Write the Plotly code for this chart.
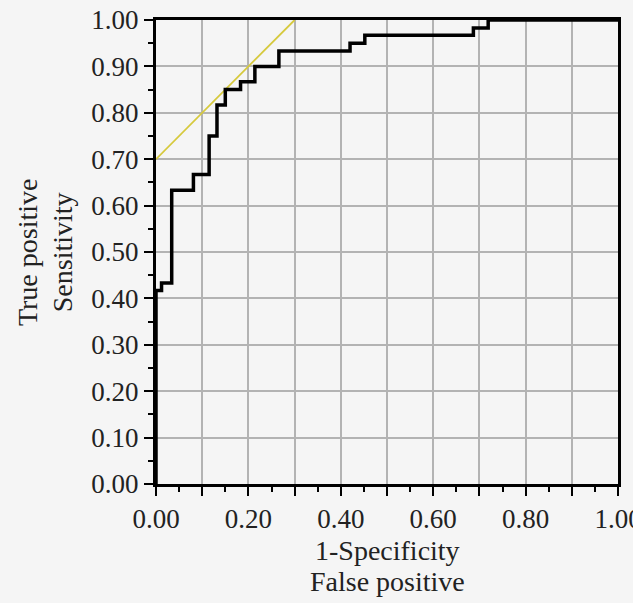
import plotly.graph_objects as go

# ROC step curve (1-Specificity, Sensitivity)
fpr = [0.0, 0.0, 0.012, 0.034, 0.081, 0.115, 0.132, 0.150, 0.183, 0.214, 0.266, 0.420, 0.452, 0.687, 0.719, 1.0]
tpr = [0.0, 0.417, 0.433, 0.633, 0.667, 0.750, 0.817, 0.850, 0.867, 0.900, 0.933, 0.950, 0.967, 0.983, 1.0, 1.0]

# tangent reference line
tan_x = [0.0, 0.30]
tan_y = [0.70, 1.00]

x_ticks = [round(i * 0.1, 2) for i in range(11)]
x_labels = [f"{v:.2f}" if i % 2 == 0 else "" for i, v in enumerate(x_ticks)]
y_ticks = [round(i * 0.1, 2) for i in range(11)]
y_labels = [f"{v:.2f}" for v in y_ticks]

x_title = ["1-Specificity", "False positive"]
y_title = ["True positive", "Sensitivity"]

FONT = "Liberation Serif"
BG = "#f5f5f5"
TXT = "#222"

fig = go.Figure()
fig.add_trace(go.Scatter(x=tan_x, y=tan_y, mode="lines",
                         line=dict(color="#d6c93c", width=1.8), showlegend=False))
fig.add_trace(go.Scatter(x=fpr, y=tpr, mode="lines", line_shape="hv",
                         line=dict(color="black", width=3.5), showlegend=False))

axis_common = dict(
    range=[0, 1], showline=True, linecolor="black", linewidth=3, mirror=True,
    showgrid=True, gridcolor="#b3b3b3", gridwidth=2,
    ticks="outside", ticklen=9, tickwidth=2, tickcolor="black",
    minor=dict(dtick=0.05, tick0=0, ticks="outside", ticklen=5, tickwidth=2,
               tickcolor="black", showgrid=False),
    tickfont=dict(family=FONT, size=27, color=TXT),
    zeroline=False, fixedrange=True, automargin=False,
    ticklabeloverflow="allow",
)

fig.update_xaxes(**axis_common, tickmode="array", tickvals=x_ticks, ticktext=x_labels)
fig.update_yaxes(**axis_common, tickmode="array", tickvals=y_ticks, ticktext=y_labels)

# axis titles as annotations for precise placement
for txt, yy in zip(x_title, [-0.144, -0.210]):
    fig.add_annotation(text=txt, xref="paper", yref="paper", x=0.5, y=yy,
                       xanchor="center", yanchor="middle", showarrow=False,
                       font=dict(family=FONT, size=28, color=TXT))
for txt, xx in zip(y_title, [-0.279, -0.203]):
    fig.add_annotation(text=txt, xref="paper", yref="paper", x=xx, y=0.5,
                       xanchor="center", yanchor="middle", showarrow=False,
                       textangle=-90, font=dict(family=FONT, size=28, color=TXT))

fig.update_layout(
    width=633, height=603,
    margin=dict(l=156, r=15, t=20, b=119),
    paper_bgcolor=BG, plot_bgcolor=BG,
)

fig.write_html(
    "out.html",
    config={"displayModeBar": False},
    post_script=("document.body.style.margin='0';"
                 "document.body.style.overflow='hidden';"
                 "document.body.style.background='#f5f5f5';"),
)
